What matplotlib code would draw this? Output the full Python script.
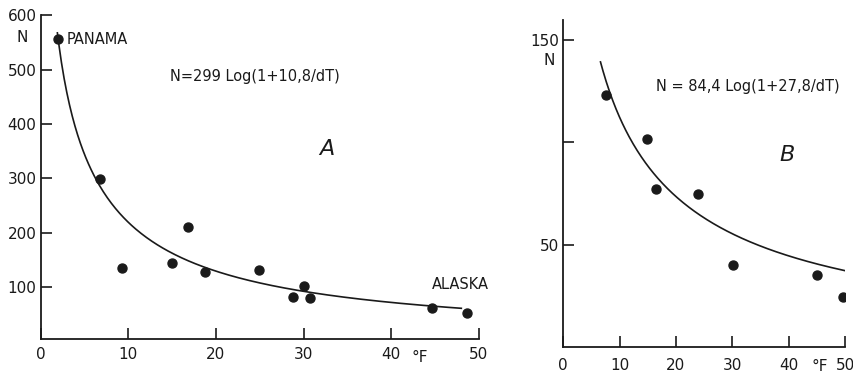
import numpy as np
import matplotlib
matplotlib.use("Agg")
import matplotlib.pyplot as plt

# panel A data (dT in degF, N)
a_dt = [2.0, 6.8, 9.3, 15.0, 16.8, 18.8, 24.9, 28.8, 30.0, 30.7, 44.7, 48.7]
a_n = [556, 298, 134, 145, 210, 128, 131, 81, 102, 80, 61, 52]
a_coef = (299.0, 10.8)
a_yticks = [100, 200, 300, 400, 500, 600]

# panel B data
b_dt = [7.5, 14.8, 16.5, 23.9, 30.2, 45.0, 49.7]
b_n = [123, 101.5, 77, 75, 40, 35, 24.5]
b_coef = (84.4, 27.8)
b_yticks = [50, 100, 150]
b_yticklabels = ["50", "", "150"]

x_ticks = [0, 10, 20, 30, 40, 50]
ink = "#1a1a1a"

plt.rcParams["font.family"] = ["DejaVu Sans"]

fig = plt.figure(figsize=(8.54, 3.78), dpi=100)
ax_a = fig.add_axes([0.0477, 0.103, 0.513, 0.856])
ax_b = fig.add_axes([0.6596, 0.082, 0.3299, 0.866])


def style(ax, xpad):
    for side in ("top", "right"):
        ax.spines[side].set_visible(False)
    for side in ("left", "bottom"):
        ax.spines[side].set_color(ink)
        ax.spines[side].set_linewidth(1.3)
    ax.tick_params(direction="in", length=8, width=1.2, colors=ink,
                   labelsize=11, labelcolor=ink)
    ax.tick_params(axis="x", pad=xpad)
    ax.tick_params(axis="y", pad=3)


def fit(coef, lo, hi):
    x = np.linspace(lo, hi, 300)
    return x, coef[0] * np.log(1 + coef[1] / x)


# A
style(ax_a, 6)
xa, ya = fit(a_coef, 1.9, 48.0)
ax_a.plot(xa, ya, color=ink, lw=1.2)
ax_a.scatter(a_dt, a_n, s=42, color=ink, zorder=3)
ax_a.set_xlim(0, 50)
ax_a.set_ylim(4, 600)
ax_a.set_xticks(x_ticks)
ax_a.set_xticklabels(["0", "10", "20", "30", "40", "50"])
ax_a.set_yticks(a_yticks)
ax_a.text(-2.1, 559, "N", ha="center", va="center", fontsize=11, color=ink, clip_on=False)
ax_a.text(2.9, 556, "PANAMA", ha="left", va="center", fontsize=10.5, color=ink)
ax_a.text(44.6, 104, "ALASKA", ha="left", va="center", fontsize=10.5, color=ink)
ax_a.text(14.7, 487, "N=299 Log(1+10,8/dT)", ha="left", va="center", fontsize=10.5, color=ink)
ax_a.text(32.6, 355, "A", ha="center", va="center", fontsize=16, style="italic", color=ink)
ax_a.text(43.3, -30, "°F", ha="center", va="center", fontsize=11, color=ink, clip_on=False)

# B
style(ax_b, 8)
xb, yb = fit(b_coef, 6.6, 50.0)
ax_b.plot(xb, yb, color=ink, lw=1.2)
ax_b.scatter(b_dt, b_n, s=42, color=ink, zorder=3)
ax_b.set_xlim(0, 50)
ax_b.set_ylim(0, 160)
ax_b.set_xticks(x_ticks)
ax_b.set_xticklabels(["0", "10", "20", "30", "40", "50"])
ax_b.set_yticks(b_yticks)
ax_b.set_yticklabels(b_yticklabels)
ax_b.text(-2.5, 140, "N", ha="center", va="center", fontsize=11, color=ink, clip_on=False)
ax_b.text(16.5, 127.5, "N = 84,4 Log(1+27,8/dT)", ha="left", va="center", fontsize=10.5, color=ink)
ax_b.text(39.7, 93.7, "B", ha="center", va="center", fontsize=16, style="italic", color=ink)
ax_b.text(45.5, -9.5, "°F", ha="center", va="center", fontsize=11, color=ink, clip_on=False)

fig.savefig("out.png", dpi=100)
